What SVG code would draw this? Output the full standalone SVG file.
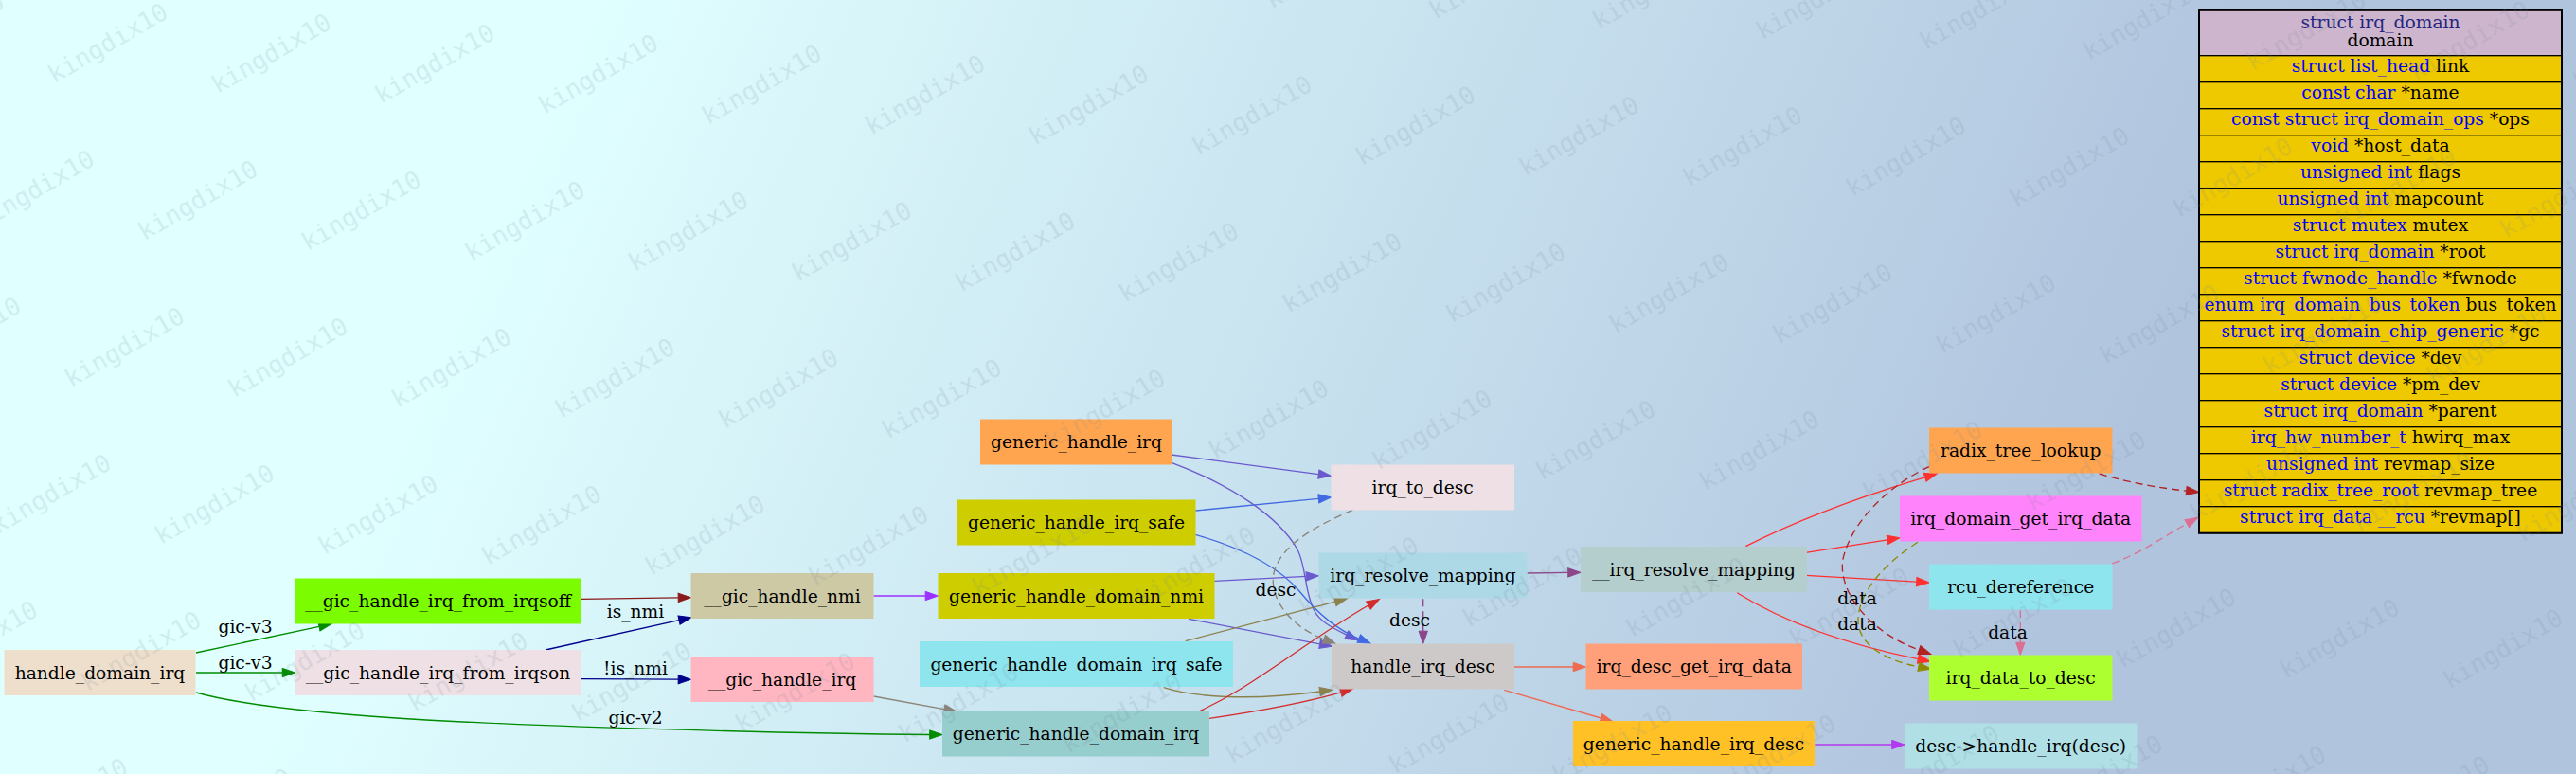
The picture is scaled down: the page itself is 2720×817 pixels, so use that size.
<svg xmlns="http://www.w3.org/2000/svg" width="2720" height="817" viewBox="0 0 2720 817">
<style>
.nt{font-family:'DejaVu Serif','Liberation Serif',serif;font-size:18.67px;text-anchor:middle;fill:#000}
.lb{font-family:'DejaVu Serif','Liberation Serif',serif;font-size:18.67px;text-anchor:middle;fill:#000}
.e{fill:none;stroke-width:1.33}
.d{stroke-dasharray:8,5}
.cell{fill:#EEC900;stroke:#000;stroke-width:1.3}
.ty{fill:#0000FF}
.wm{font-family:'DejaVu Sans Mono','Liberation Mono',monospace;font-size:26px;fill:#6f8293;fill-opacity:0.16}
</style>
<defs>
<linearGradient id="bg" gradientUnits="userSpaceOnUse" x1="600" y1="70" x2="2120" y2="746">
<stop offset="0" stop-color="#E0FFFF"/>
<stop offset="1" stop-color="#B0C4DE"/>
</linearGradient>
<pattern id="wmp" patternUnits="userSpaceOnUse" width="172.6" height="155" patternTransform="translate(92.4,-33.3) matrix(1,0.06315,-0.5,1,0,0)">
<text class="wm" transform="matrix(0.59717,-0.53771,0.90445,0.80891,25,120)">kingdix10</text>
</pattern>
<marker id="a-green" viewBox="-1 -6 16 12" refX="0" refY="0" markerWidth="16" markerHeight="12" markerUnits="userSpaceOnUse" orient="auto"><path d="M0,-4.65L13.3,0L0,4.65z" fill="#008B00" stroke="#008B00"/></marker>
<marker id="a-dred" viewBox="-1 -6 16 12" refX="0" refY="0" markerWidth="16" markerHeight="12" markerUnits="userSpaceOnUse" orient="auto"><path d="M0,-4.65L13.3,0L0,4.65z" fill="#8B1A1A" stroke="#8B1A1A"/></marker>
<marker id="a-navy" viewBox="-1 -6 16 12" refX="0" refY="0" markerWidth="16" markerHeight="12" markerUnits="userSpaceOnUse" orient="auto"><path d="M0,-4.65L13.3,0L0,4.65z" fill="#00008B" stroke="#00008B"/></marker>
<marker id="a-purple" viewBox="-1 -6 16 12" refX="0" refY="0" markerWidth="16" markerHeight="12" markerUnits="userSpaceOnUse" orient="auto"><path d="M0,-4.65L13.3,0L0,4.65z" fill="#9B30FF" stroke="#9B30FF"/></marker>
<marker id="a-gray" viewBox="-1 -6 16 12" refX="0" refY="0" markerWidth="16" markerHeight="12" markerUnits="userSpaceOnUse" orient="auto"><path d="M0,-4.65L13.3,0L0,4.65z" fill="#8B8378" stroke="#8B8378"/></marker>
<marker id="a-slate" viewBox="-1 -6 16 12" refX="0" refY="0" markerWidth="16" markerHeight="12" markerUnits="userSpaceOnUse" orient="auto"><path d="M0,-4.65L13.3,0L0,4.65z" fill="#6A5ACD" stroke="#6A5ACD"/></marker>
<marker id="a-royal" viewBox="-1 -6 16 12" refX="0" refY="0" markerWidth="16" markerHeight="12" markerUnits="userSpaceOnUse" orient="auto"><path d="M0,-4.65L13.3,0L0,4.65z" fill="#4169E1" stroke="#4169E1"/></marker>
<marker id="a-olive" viewBox="-1 -6 16 12" refX="0" refY="0" markerWidth="16" markerHeight="12" markerUnits="userSpaceOnUse" orient="auto"><path d="M0,-4.65L13.3,0L0,4.65z" fill="#8B814C" stroke="#8B814C"/></marker>
<marker id="a-red3" viewBox="-1 -6 16 12" refX="0" refY="0" markerWidth="16" markerHeight="12" markerUnits="userSpaceOnUse" orient="auto"><path d="M0,-4.65L13.3,0L0,4.65z" fill="#D42A2A" stroke="#D42A2A"/></marker>
<marker id="a-orchid" viewBox="-1 -6 16 12" refX="0" refY="0" markerWidth="16" markerHeight="12" markerUnits="userSpaceOnUse" orient="auto"><path d="M0,-4.65L13.3,0L0,4.65z" fill="#8B4789" stroke="#8B4789"/></marker>
<marker id="a-coral" viewBox="-1 -6 16 12" refX="0" refY="0" markerWidth="16" markerHeight="12" markerUnits="userSpaceOnUse" orient="auto"><path d="M0,-4.65L13.3,0L0,4.65z" fill="#EE6A50" stroke="#EE6A50"/></marker>
<marker id="a-red1" viewBox="-1 -6 16 12" refX="0" refY="0" markerWidth="16" markerHeight="12" markerUnits="userSpaceOnUse" orient="auto"><path d="M0,-4.65L13.3,0L0,4.65z" fill="#FF3030" stroke="#FF3030"/></marker>
<marker id="a-fire" viewBox="-1 -6 16 12" refX="0" refY="0" markerWidth="16" markerHeight="12" markerUnits="userSpaceOnUse" orient="auto"><path d="M0,-4.65L13.3,0L0,4.65z" fill="#B22222" stroke="#B22222"/></marker>
<marker id="a-y4" viewBox="-1 -6 16 12" refX="0" refY="0" markerWidth="16" markerHeight="12" markerUnits="userSpaceOnUse" orient="auto"><path d="M0,-4.65L13.3,0L0,4.65z" fill="#8B8B00" stroke="#8B8B00"/></marker>
<marker id="a-pvr" viewBox="-1 -6 16 12" refX="0" refY="0" markerWidth="16" markerHeight="12" markerUnits="userSpaceOnUse" orient="auto"><path d="M0,-4.65L13.3,0L0,4.65z" fill="#DB7093" stroke="#DB7093"/></marker>
<marker id="a-dorch" viewBox="-1 -6 16 12" refX="0" refY="0" markerWidth="16" markerHeight="12" markerUnits="userSpaceOnUse" orient="auto"><path d="M0,-4.65L13.3,0L0,4.65z" fill="#B23AEE" stroke="#B23AEE"/></marker>
</defs>
<rect x="0" y="0" width="2720" height="817" fill="url(#bg)"/>

<g id="connectors">
<path class="e" stroke="#008B00" marker-end="url(#a-green)" d="M207,689L337,661.3"/>
<path class="e" stroke="#008B00" marker-end="url(#a-green)" d="M207,710L298.2,710"/>
<path class="e" stroke="#008B00" marker-end="url(#a-green)" d="M207,731C260,746 350,754 450,760C560,766 800,774 981.7,775.5"/>
<path class="e" stroke="#8B1A1A" marker-end="url(#a-dred)" d="M614,632.3L716.2,630.9"/>
<path class="e" stroke="#00008B" marker-end="url(#a-navy)" d="M576,686L717,654.6"/>
<path class="e" stroke="#00008B" marker-end="url(#a-navy)" d="M614,716.7L716.2,717.2"/>
<path class="e" stroke="#9B30FF" marker-end="url(#a-purple)" d="M922.5,629L977.2,629"/>
<path class="e" stroke="#8B8378" marker-end="url(#a-gray)" d="M922.5,735L997,748.6"/>
<path class="e" stroke="#6A5ACD" marker-end="url(#a-slate)" d="M1236.7,480L1392.3,500.6"/>
<path class="e" stroke="#4169E1" marker-end="url(#a-royal)" d="M1262.3,539L1392.3,526.3"/>
<path class="e" stroke="#6A5ACD" marker-end="url(#a-slate)" d="M1237,488.3C1300,512 1350,545 1370,580C1380,600 1377,625 1388,645C1393,655 1405,662 1421.8,670.1"/>
<path class="e" stroke="#4169E1" marker-end="url(#a-royal)" d="M1262.3,564.3C1310,578 1350,598 1372,624C1390,646 1410,664 1434.8,674.1"/>
<path class="e" stroke="#6A5ACD" marker-end="url(#a-slate)" d="M1282.3,613.3L1379.2,608.4"/>
<path class="e" stroke="#6A5ACD" marker-end="url(#a-slate)" d="M1255,653.3L1393.6,679.8"/>
<path class="e" stroke="#8B814C" marker-end="url(#a-olive)" d="M1251.7,676.7L1409.8,635.1"/>
<path class="e" stroke="#8B814C" marker-end="url(#a-olive)" d="M1228.7,725.7C1260,736 1320,740 1393.6,730"/>
<path class="e" stroke="#D42A2A" marker-end="url(#a-red3)" d="M1266.7,750.7C1300,735 1325,718 1353,699C1385,677 1415,656 1444.9,639"/>
<path class="e" stroke="#D42A2A" marker-end="url(#a-red3)" d="M1277,758.3C1320,752 1370,744 1415.7,730.8"/>
<path class="e d" stroke="#8B8378" marker-end="url(#a-gray)" d="M1428.3,538.3C1390,555 1352,575 1345,605C1340,630 1360,660 1397.8,674.6"/>
<path class="e" stroke="#8B4789" marker-end="url(#a-orchid)" d="M1612.5,605L1655.7,604.4"/>
<path class="e d" stroke="#8B4789" marker-end="url(#a-orchid)" d="M1502.7,632.3L1502.7,666.2"/>
<path class="e" stroke="#EE6A50" marker-end="url(#a-coral)" d="M1599,704L1661.2,704"/>
<path class="e" stroke="#EE6A50" marker-end="url(#a-coral)" d="M1588.3,728.3L1690.5,758"/>
<path class="e" stroke="#FF3030" marker-end="url(#a-red1)" d="M1843.3,576.7C1900,548 1965,524 2032.6,503.8"/>
<path class="e" stroke="#FF3030" marker-end="url(#a-red1)" d="M1906.7,583.3L1992.9,569.8"/>
<path class="e" stroke="#FF3030" marker-end="url(#a-red1)" d="M1906.7,607.3L2023.7,614.2"/>
<path class="e" stroke="#FF3030" marker-end="url(#a-red1)" d="M1834.2,625.7C1870,648 1930,676 2025.3,695.6"/>
<path class="e d" stroke="#B22222" marker-end="url(#a-fire)" d="M2037,492.7C1995,512 1955,550 1946,590C1940,625 1975,668 2026.3,686"/>
<path class="e d" stroke="#8B8B00" marker-end="url(#a-y4)" d="M2025,572.3C1990,595 1962,625 1962,655C1962,680 1990,697 2025.8,703.8"/>
<path class="e d" stroke="#DB7093" marker-end="url(#a-pvr)" d="M2133.3,644.3L2133.3,678.2"/>
<path class="e d" stroke="#B22222" marker-end="url(#a-fire)" d="M2216.7,500C2250,510 2280,515 2308.6,518.1"/>
<path class="e d" stroke="#DB7093" marker-end="url(#a-pvr)" d="M2230,595C2262,583 2282,568 2309.2,552.7"/>
<path class="e" stroke="#B23AEE" marker-end="url(#a-dorch)" d="M1916.3,786L1997.7,786"/>
<text class="lb" x="259" y="668">gic-v3</text>
<text class="lb" x="259" y="706">gic-v3</text>
<text class="lb" x="671" y="764">gic-v2</text>
<text class="lb" x="671" y="652">is_nmi</text>
<text class="lb" x="671" y="712">!is_nmi</text>
<text class="lb" x="1347" y="628.5">desc</text>
<text class="lb" x="1488.5" y="661">desc</text>
<text class="lb" x="1961" y="638">data</text>
<text class="lb" x="1961" y="664.5">data</text>
<text class="lb" x="2120" y="674">data</text>
</g>

<g id="handle_domain_irq"><rect x="4.5" y="686" width="202" height="48" fill="#EEDFCC"/><text class="nt" x="105.5" y="716.5">handle_domain_irq</text></g>
<g id="gic_handle_irq_from_irqsoff"><rect x="311.5" y="610.5" width="302" height="48" fill="#7CFC00"/><text class="nt" x="462.5" y="641">__gic_handle_irq_from_irqsoff</text></g>
<g id="gic_handle_irq_from_irqson"><rect x="311.5" y="686" width="302" height="48" fill="#EEE0E5"/><text class="nt" x="462.5" y="716.5">__gic_handle_irq_from_irqson</text></g>
<g id="gic_handle_nmi"><rect x="729.5" y="605" width="193" height="48" fill="#CDC9A5"/><text class="nt" x="826" y="635.5">__gic_handle_nmi</text></g>
<g id="gic_handle_irq"><rect x="729.5" y="693" width="193" height="48" fill="#FFB6C1"/><text class="nt" x="826" y="723.5">__gic_handle_irq</text></g>
<g id="generic_handle_irq"><rect x="1035" y="442.5" width="203" height="48" fill="#FFA54F"/><text class="nt" x="1136.5" y="473">generic_handle_irq</text></g>
<g id="generic_handle_irq_safe"><rect x="1010.5" y="527.5" width="252" height="48" fill="#CDCD00"/><text class="nt" x="1136.5" y="558">generic_handle_irq_safe</text></g>
<g id="generic_handle_domain_nmi"><rect x="990.5" y="605" width="292" height="48" fill="#CDCD00"/><text class="nt" x="1136.5" y="635.5">generic_handle_domain_nmi</text></g>
<g id="generic_handle_domain_irq_safe"><rect x="971" y="677" width="331" height="48" fill="#8EE5EE"/><text class="nt" x="1136.5" y="707.5">generic_handle_domain_irq_safe</text></g>
<g id="generic_handle_domain_irq"><rect x="995" y="750.5" width="282" height="48" fill="#96CDCD"/><text class="nt" x="1136" y="781">generic_handle_domain_irq</text></g>
<g id="irq_to_desc"><rect x="1405.5" y="490.5" width="193.5" height="48" fill="#EEE0E5"/><text class="nt" x="1502.2" y="521">irq_to_desc</text></g>
<g id="irq_resolve_mapping"><rect x="1392.5" y="583.5" width="220" height="48" fill="#ADD8E6"/><text class="nt" x="1502.5" y="614">irq_resolve_mapping</text></g>
<g id="handle_irq_desc"><rect x="1406" y="679.5" width="193" height="48" fill="#CDC9C9"/><text class="nt" x="1502.5" y="710">handle_irq_desc</text></g>
<g id="__irq_resolve_mapping"><rect x="1669" y="577" width="239" height="48" fill="#B4CDCD"/><text class="nt" x="1788.5" y="607.5">__irq_resolve_mapping</text></g>
<g id="irq_desc_get_irq_data"><rect x="1674.5" y="679.5" width="228.5" height="48" fill="#FFA07A"/><text class="nt" x="1788.7" y="710">irq_desc_get_irq_data</text></g>
<g id="generic_handle_irq_desc"><rect x="1661" y="761" width="255" height="48" fill="#FFC125"/><text class="nt" x="1788.5" y="791.5">generic_handle_irq_desc</text></g>
<g id="radix_tree_lookup"><rect x="2037" y="451.5" width="193.5" height="48" fill="#FFA54F"/><text class="nt" x="2133.7" y="482">radix_tree_lookup</text></g>
<g id="irq_domain_get_irq_data"><rect x="2006" y="523.5" width="255.5" height="48" fill="#FF83FA"/><text class="nt" x="2133.7" y="554">irq_domain_get_irq_data</text></g>
<g id="rcu_dereference"><rect x="2037" y="595.5" width="193.5" height="48" fill="#8EE5EE"/><text class="nt" x="2133.7" y="626">rcu_dereference</text></g>
<g id="irq_data_to_desc"><rect x="2037" y="691.5" width="193.5" height="48" fill="#ADFF2F"/><text class="nt" x="2133.7" y="722">irq_data_to_desc</text></g>
<g id="desc_handle_irq"><rect x="2011" y="763.5" width="245.5" height="48" fill="#B0E0E6"/><text class="nt" x="2133.7" y="794">desc-&gt;handle_irq(desc)</text></g>

<g id="irq_domain">
<rect x="2322" y="10.7" width="383" height="48" fill="#CDB5CD" stroke="#000" stroke-width="1.3"/>
<text class="nt" x="2513.5" y="30" fill="#25257f" style="fill:#25257f">struct irq_domain</text>
<text class="nt" x="2513.5" y="49.3">domain</text>
<rect class="cell" x="2322" y="58.7" width="383" height="28"/>
<rect class="cell" x="2322" y="86.7" width="383" height="28"/>
<rect class="cell" x="2322" y="114.7" width="383" height="28"/>
<rect class="cell" x="2322" y="142.7" width="383" height="28"/>
<rect class="cell" x="2322" y="170.7" width="383" height="28"/>
<rect class="cell" x="2322" y="198.7" width="383" height="28"/>
<rect class="cell" x="2322" y="226.7" width="383" height="28"/>
<rect class="cell" x="2322" y="254.7" width="383" height="28"/>
<rect class="cell" x="2322" y="282.7" width="383" height="28"/>
<rect class="cell" x="2322" y="310.7" width="383" height="28"/>
<rect class="cell" x="2322" y="338.7" width="383" height="28"/>
<rect class="cell" x="2322" y="366.7" width="383" height="28"/>
<rect class="cell" x="2322" y="394.7" width="383" height="28"/>
<rect class="cell" x="2322" y="422.7" width="383" height="28"/>
<rect class="cell" x="2322" y="450.7" width="383" height="28"/>
<rect class="cell" x="2322" y="478.7" width="383" height="28"/>
<rect class="cell" x="2322" y="506.7" width="383" height="28"/>
<rect class="cell" x="2322" y="534.7" width="383" height="28"/>
<rect x="2322" y="10.7" width="383" height="552" fill="none" stroke="#000" stroke-width="2"/>
<text class="nt" x="2513.5" y="76"><tspan class="ty">struct list_head</tspan> link</text>
<text class="nt" x="2513.5" y="104"><tspan class="ty">const char</tspan> *name</text>
<text class="nt" x="2513.5" y="132"><tspan class="ty">const struct irq_domain_ops</tspan> *ops</text>
<text class="nt" x="2513.5" y="160"><tspan class="ty">void</tspan> *host_data</text>
<text class="nt" x="2513.5" y="188"><tspan class="ty">unsigned int</tspan> flags</text>
<text class="nt" x="2513.5" y="216"><tspan class="ty">unsigned int</tspan> mapcount</text>
<text class="nt" x="2513.5" y="244"><tspan class="ty">struct mutex</tspan> mutex</text>
<text class="nt" x="2513.5" y="272"><tspan class="ty">struct irq_domain</tspan> *root</text>
<text class="nt" x="2513.5" y="300"><tspan class="ty">struct fwnode_handle</tspan> *fwnode</text>
<text class="nt" x="2513.5" y="328"><tspan class="ty">enum irq_domain_bus_token</tspan> bus_token</text>
<text class="nt" x="2513.5" y="356"><tspan class="ty">struct irq_domain_chip_generic</tspan> *gc</text>
<text class="nt" x="2513.5" y="384"><tspan class="ty">struct device</tspan> *dev</text>
<text class="nt" x="2513.5" y="412"><tspan class="ty">struct device</tspan> *pm_dev</text>
<text class="nt" x="2513.5" y="440"><tspan class="ty">struct irq_domain</tspan> *parent</text>
<text class="nt" x="2513.5" y="468"><tspan class="ty">irq_hw_number_t</tspan> hwirq_max</text>
<text class="nt" x="2513.5" y="496"><tspan class="ty">unsigned int</tspan> revmap_size</text>
<text class="nt" x="2513.5" y="524"><tspan class="ty">struct radix_tree_root</tspan> revmap_tree</text>
<text class="nt" x="2513.5" y="552"><tspan class="ty">struct irq_data __rcu</tspan> *revmap[]</text>
</g>

<rect x="0" y="0" width="2720" height="817" fill="url(#wmp)" pointer-events="none"/>
</svg>
